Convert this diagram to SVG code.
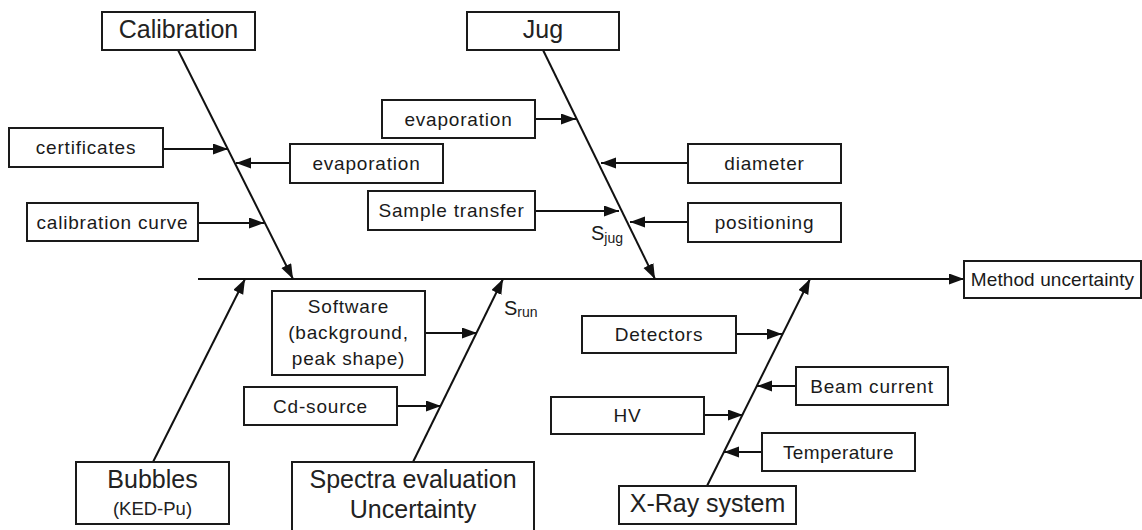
<svg xmlns="http://www.w3.org/2000/svg" width="1142" height="530" viewBox="0 0 1142 530">
  <defs>
    <marker id="head" markerUnits="userSpaceOnUse" markerWidth="16" markerHeight="12" refX="15" refY="5.5" orient="auto">
      <path d="M0,0 L15,5.5 L0,11 z" fill="#111"/>
    </marker>
    <style>
      .box { fill: #fff; stroke: #1a1a1a; stroke-width: 2; }
      .lbl { font-family: "Liberation Sans", Arial, sans-serif; font-size: 19px; letter-spacing: 0.8px; fill: #1a1a1a; text-anchor: middle; }
      .big { font-family: "Liberation Sans", Arial, sans-serif; font-size: 25px; fill: #222; text-anchor: middle; }
      .sub { font-family: "Liberation Sans", Arial, sans-serif; fill: #1a1a1a; }
      .con { stroke: #111; stroke-width: 2; fill: none; marker-end: url(#head); }
    </style>
  </defs>
  <rect width="1142" height="530" fill="#fff"/>

  <!-- connectors: spine, main bones and side arrows -->
  <g id="connectors">
    <line class="con" x1="198" y1="279" x2="964" y2="279"/>
    <line class="con" x1="178" y1="50" x2="293" y2="279"/>
    <line class="con" x1="543" y1="50" x2="655" y2="279"/>
    <line class="con" x1="153" y1="462" x2="245" y2="279"/>
    <line class="con" x1="413" y1="462" x2="503" y2="279"/>
    <line class="con" x1="707" y1="486" x2="810" y2="279"/>

    <line class="con" x1="163" y1="149" x2="228" y2="149"/>
    <line class="con" x1="290" y1="163" x2="236" y2="163"/>
    <line class="con" x1="198" y1="223" x2="264" y2="223"/>

    <line class="con" x1="535" y1="119" x2="576" y2="119"/>
    <line class="con" x1="688" y1="163" x2="601" y2="163"/>
    <line class="con" x1="535" y1="211" x2="619" y2="211"/>
    <line class="con" x1="688" y1="222" x2="630" y2="222"/>

    <line class="con" x1="425" y1="333" x2="477" y2="333"/>
    <line class="con" x1="397" y1="406" x2="441" y2="406"/>

    <line class="con" x1="736" y1="334" x2="782" y2="334"/>
    <line class="con" x1="796" y1="386" x2="757" y2="386"/>
    <line class="con" x1="704" y1="415" x2="743" y2="415"/>
    <line class="con" x1="762" y1="452" x2="724" y2="452"/>
  </g>

  <g id="calibration">
    <rect class="box" x="102" y="12" width="153" height="38"/>
    <text class="big" x="178.5" y="38">Calibration</text>
  </g>
  <g id="jug">
    <rect class="box" x="467" y="12" width="152" height="38"/>
    <text class="big" x="543" y="38">Jug</text>
  </g>
  <g id="certificates">
    <rect class="box" x="9" y="128" width="154" height="39"/>
    <text class="lbl" x="86" y="154">certificates</text>
  </g>
  <g id="evaporation-cal">
    <rect class="box" x="290" y="144" width="153" height="39"/>
    <text class="lbl" x="366.5" y="170">evaporation</text>
  </g>
  <g id="calibration-curve">
    <rect class="box" x="27" y="203" width="171" height="38"/>
    <text class="lbl" x="112.5" y="228.5">calibration curve</text>
  </g>
  <g id="evaporation-jug">
    <rect class="box" x="382" y="100" width="153" height="38"/>
    <text class="lbl" x="458.5" y="125.5">evaporation</text>
  </g>
  <g id="diameter">
    <rect class="box" x="688" y="144" width="153" height="39"/>
    <text class="lbl" x="764.5" y="170">diameter</text>
  </g>
  <g id="sample-transfer">
    <rect class="box" x="368" y="191" width="167" height="39"/>
    <text class="lbl" x="451.5" y="217">Sample transfer</text>
  </g>
  <g id="positioning">
    <rect class="box" x="688" y="203" width="153" height="39"/>
    <text class="lbl" x="764.5" y="229">positioning</text>
  </g>
  <g id="s-jug">
    <text class="sub" x="591" y="240" font-size="20">S<tspan font-size="14" dy="3">jug</tspan></text>
  </g>
  <g id="method-uncertainty">
    <rect class="box" x="964" y="261" width="177" height="37"/>
    <text class="lbl" x="1052.5" y="286" style="letter-spacing:0.1px">Method uncertainty</text>
  </g>
  <g id="software">
    <rect class="box" x="272" y="291" width="153" height="84"/>
    <text class="lbl" x="348.5" y="313">Software</text>
    <text class="lbl" x="348.5" y="339">(background,</text>
    <text class="lbl" x="348.5" y="365">peak shape)</text>
  </g>
  <g id="s-run">
    <text class="sub" x="504" y="315" font-size="20">S<tspan font-size="14" dy="2">run</tspan></text>
  </g>
  <g id="cd-source">
    <rect class="box" x="244" y="387" width="153" height="38"/>
    <text class="lbl" x="320.5" y="412.5">Cd-source</text>
  </g>
  <g id="detectors">
    <rect class="box" x="582" y="316" width="154" height="37"/>
    <text class="lbl" x="659" y="341">Detectors</text>
  </g>
  <g id="beam-current">
    <rect class="box" x="796" y="367" width="152" height="38"/>
    <text class="lbl" x="872" y="392.5">Beam current</text>
  </g>
  <g id="hv">
    <rect class="box" x="551" y="397" width="153" height="37"/>
    <text class="lbl" x="627.5" y="422">HV</text>
  </g>
  <g id="temperature">
    <rect class="box" x="762" y="433" width="153" height="38"/>
    <text class="lbl" x="838.5" y="458.5" style="letter-spacing:0.4px">Temperature</text>
  </g>
  <g id="bubbles">
    <rect class="box" x="76" y="462" width="153" height="62"/>
    <text class="big" x="152.5" y="488">Bubbles</text>
    <text class="big" x="152.5" y="515" style="font-size:18.5px">(KED-Pu)</text>
  </g>
  <g id="spectra-evaluation">
    <rect class="box" x="292" y="462" width="242" height="80"/>
    <text class="big" x="413" y="488">Spectra evaluation</text>
    <text class="big" x="413" y="518">Uncertainty</text>
  </g>
  <g id="x-ray-system">
    <rect class="box" x="619" y="486" width="177" height="38"/>
    <text class="big" x="707.5" y="512">X-Ray system</text>
  </g>
</svg>
